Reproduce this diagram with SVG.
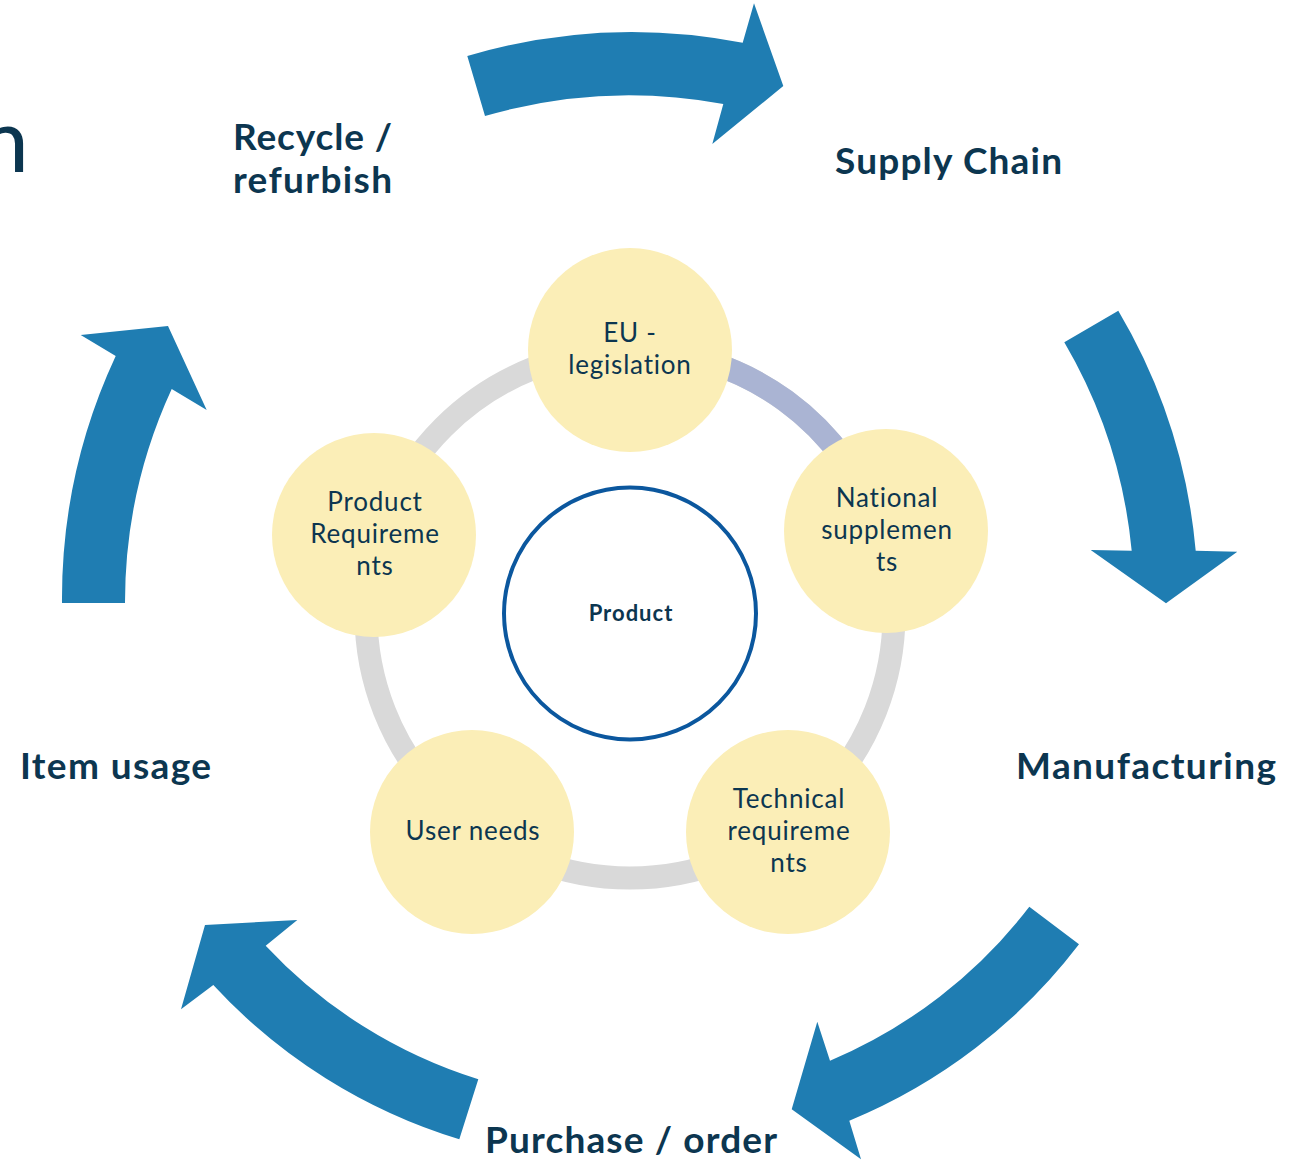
<svg xmlns="http://www.w3.org/2000/svg" width="1309" height="1160" viewBox="0 0 1309 1160">
<style>
.lbl{font-family:Lato,"Open Sans","Liberation Sans",sans-serif;font-weight:bold;font-size:37px;fill:#0c3650}
.ntx{font-family:Lato,"Open Sans","Liberation Sans",sans-serif;font-size:26px;letter-spacing:0.8px;fill:#0c3650;text-anchor:middle}
.node{fill:#fbeeb7}
.arr{fill:#1f7db2}
</style>
<rect width="1309" height="1160" fill="#ffffff"/>
<text x="29" y="172" font-family="Lato,'Open Sans',sans-serif" font-size="90" fill="#0c3650" text-anchor="end">n</text>
<g id="connectors">
<circle cx="630" cy="614" r="264" fill="none" stroke="#d9d9d9" stroke-width="23"/>
<path d="M 630 350 A 264 264 0 0 1 881.1 532.4" fill="none" stroke="#aab4d3" stroke-width="23"/>
<path class="arr" d="M 467.3 56 A 582 582 0 0 1 742.7 42.7 L 754 3.3 L 783.3 86 L 712.3 144 L 723.3 104 A 518 518 0 0 0 485 116 Z"/>
<path class="arr" d="M 1118.3 310.7 A 572 572 0 0 1 1195.7 550.7 L 1237.3 551.7 L 1166 603.3 L 1090.7 550 L 1131.7 550.7 A 508 508 0 0 0 1064.3 342.3 Z"/>
<path class="arr" d="M 1079 944.3 A 555 555 0 0 1 849.3 1120.7 L 861 1159.3 L 791.7 1109.3 L 817.3 1021.7 L 830 1060.7 A 492 492 0 0 0 1029.3 906.7 Z"/>
<path class="arr" d="M 459.3 1139.3 A 555 555 0 0 1 213.3 985 L 181 1009.3 L 205 925 L 297.3 920 L 265.7 945.7 A 491 491 0 0 0 478.3 1079.3 Z"/>
<path class="arr" d="M 62 603 A 575 575 0 0 1 115.7 356 L 80.7 335 L 168 326 L 206.7 410 L 171.7 389 A 510 510 0 0 0 125 603 Z"/>
</g>
<g id="recycle"><text class="lbl" x="233" y="150" textLength="159">Recycle /</text><text class="lbl" x="233" y="193" textLength="159">refurbish</text></g>
<g id="supply"><text class="lbl" x="835" y="174" textLength="227">Supply Chain</text></g>
<g id="manufacturing"><text class="lbl" x="1016" y="779" textLength="260">Manufacturing</text></g>
<g id="item-usage"><text class="lbl" x="20" y="779" textLength="191">Item usage</text></g>
<g id="purchase"><text class="lbl" x="485" y="1153" textLength="292">Purchase / order</text></g>
<g id="eu"><circle class="node" cx="630" cy="350" r="102"/><text class="ntx" x="630" y="342">EU -</text><text class="ntx" x="630" y="374">legislation</text></g>
<g id="national"><circle class="node" cx="886" cy="531" r="102"/><text class="ntx" x="887" y="507">National</text><text class="ntx" x="887" y="539">supplemen</text><text class="ntx" x="887" y="571">ts</text></g>
<g id="technical"><circle class="node" cx="788" cy="832" r="102"/><text class="ntx" x="789" y="808">Technical</text><text class="ntx" x="789" y="840">requireme</text><text class="ntx" x="789" y="872">nts</text></g>
<g id="user-needs"><circle class="node" cx="472" cy="832" r="102"/><text class="ntx" x="473" y="840">User needs</text></g>
<g id="product-req"><circle class="node" cx="374" cy="535" r="102"/><text class="ntx" x="375" y="511">Product</text><text class="ntx" x="375" y="543">Requireme</text><text class="ntx" x="375" y="575">nts</text></g>
<g id="product"><circle cx="630" cy="613.5" r="126" fill="#ffffff" stroke="#0b579e" stroke-width="4"/><text x="631" y="621" font-family="Lato,'Open Sans',sans-serif" font-weight="bold" font-size="22" letter-spacing="1" fill="#0c3650" text-anchor="middle">Product</text></g>
</svg>
